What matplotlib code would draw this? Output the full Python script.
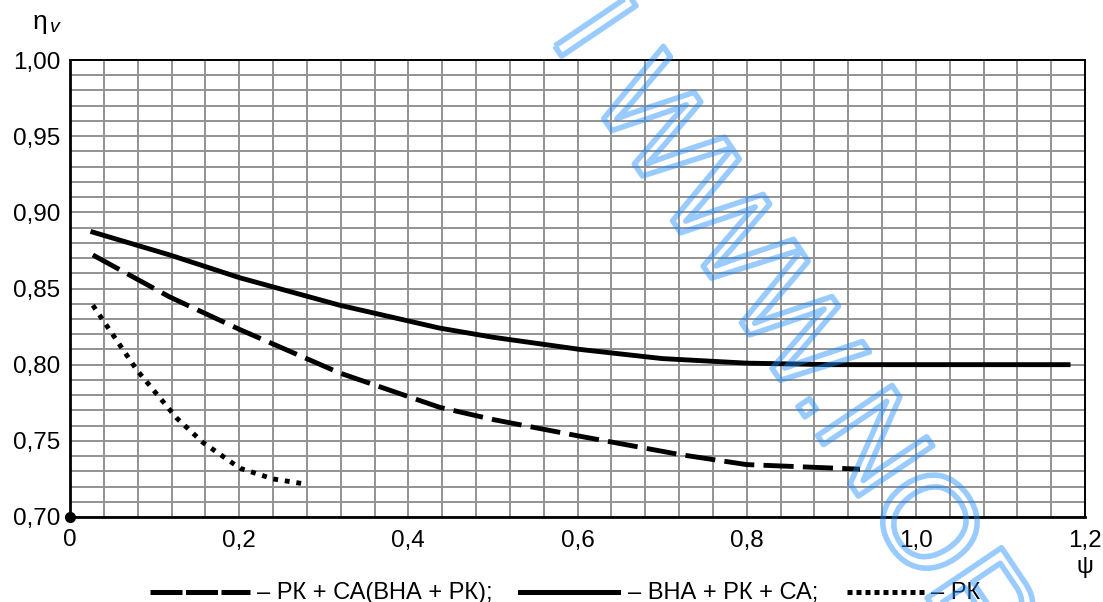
import numpy as np
import matplotlib.pyplot as plt
import matplotlib.patheffects as pe
from matplotlib.lines import Line2D

plt.rcParams['font.family'] = ['Liberation Sans', 'DejaVu Sans']

# ВНА + РК + СА (solid)
psi_vna = [0.027, 0.118, 0.201, 0.319, 0.437, 0.50, 0.603, 0.70, 0.80, 0.90, 1.00, 1.18]
eta_vna = [0.887, 0.872, 0.857, 0.839, 0.824, 0.818, 0.810, 0.804, 0.801, 0.800, 0.800, 0.800]

# РК + СА(ВНА + РК) (dashed)
psi_rksa = [0.027, 0.118, 0.201, 0.319, 0.437, 0.50, 0.603, 0.721, 0.80, 0.934]
eta_rksa = [0.872, 0.8444, 0.823, 0.7945, 0.772, 0.764, 0.753, 0.741, 0.7344, 0.7314]

# РК (dotted)
psi_rk = [0.027, 0.079, 0.126, 0.157, 0.201, 0.240, 0.274]
eta_rk = [0.839, 0.7965, 0.765, 0.749, 0.732, 0.725, 0.722]

xticks = [0, 0.2, 0.4, 0.6, 0.8, 1.0, 1.2]
xlabels = ['0', '0,2', '0,4', '0,6', '0,8', '1,0', '1,2']
yticks = [0.70, 0.75, 0.80, 0.85, 0.90, 0.95, 1.00]
ylabels = ['0,70', '0,75', '0,80', '0,85', '0,90', '0,95', '1,00']

labels = ['– РК + СА(ВНА + РК);', '– ВНА + РК + СА;', '– РК']

W, H = 1103, 602
fig = plt.figure(figsize=(W / 100, H / 100), dpi=100)
ax = fig.add_axes([70 / W, 1 - 517 / H, 1015 / W, 457 / H])

ax.set_xlim(0, 1.2)
ax.set_ylim(0.70, 1.00)
ax.set_xticks(np.arange(0, 1.2001, 0.04), minor=True)
ax.set_yticks(np.arange(0.70, 1.0001, 0.01), minor=True)
ax.set_xticks(xticks)
ax.set_xticklabels(xlabels)
ax.set_yticks(yticks)
ax.set_yticklabels(ylabels)
ax.grid(which='both', color='#939393', lw=1.4)
ax.set_axisbelow(True)
ax.tick_params(which='both', length=0, labelsize=17.5)
ax.tick_params(axis='x', pad=9)
ax.tick_params(axis='y', pad=7)
for s in ax.spines.values():
    s.set_linewidth(1.4)
ax.spines['left'].set_linewidth(2)
ax.spines['bottom'].set_linewidth(2)

lw = 3.5
ax.plot(psi_rksa, eta_rksa, color='black', lw=lw, ls=(0, (6.2, 1.9)))
ax.plot(psi_vna, eta_vna, color='black', lw=lw)
ax.plot(psi_rk, eta_rk, color='black', lw=lw, ls=(0, (1.0, 1.4)))
ax.plot([0], [0.70], 'o', color='black', ms=7, clip_on=False, zorder=5)

# legend below the plot, laid out in pixels
ly = 1 - 592 / H
ty = 1 - 599 / H
samples = [(150, 250, (0, (6.4, 0.7))), (520, 618, '-'), (847, 927, (0, (1.0, 0.8)))]
text_x = [257, 628, 931]
for (x0, x1, style), tx, lab in zip(samples, text_x, labels):
    fig.add_artist(Line2D([x0 / W, x1 / W], [ly, ly], transform=fig.transFigure,
                          color='black', lw=3.6, ls=style))
    fig.text(tx / W, ty, lab, fontsize=17, ha='left', va='baseline')

fig.text(33 / W, 1 - 22 / H, 'η', fontsize=19, ha='left', va='center')
fig.text(50 / W, 1 - 28 / H, 'v', fontsize=14, style='italic', ha='left', va='center')
fig.text(1085 / W, 1 - 567 / H, 'ψ', fontsize=17, ha='center', va='center')

# watermark
fig.text(548 / W, 1 - 36 / H, 'I WWW.NORMACS.RU', fontsize=94,
         rotation=-56, rotation_mode='anchor', ha='left', va='baseline',
         color=(1, 1, 1, 0), zorder=10,
         path_effects=[pe.Stroke(linewidth=4.0, foreground=(0.12, 0.55, 1.0, 0.45))])

fig.savefig('out.png', dpi=100)
